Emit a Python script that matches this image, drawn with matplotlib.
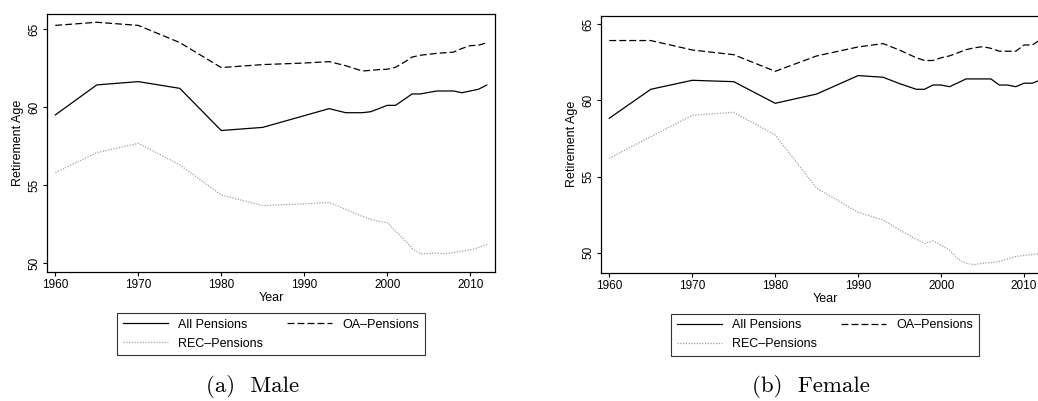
import matplotlib
matplotlib.use("Agg")
import matplotlib.pyplot as plt

years = [1960, 1965, 1970, 1975, 1980, 1985, 1990, 1993, 1995, 1997, 1998, 1999,
         2000, 2001, 2002, 2003, 2004, 2005, 2006, 2007, 2008, 2009, 2010, 2011, 2012]

male_all = [59.5, 61.42, 61.63, 61.2, 58.5, 58.7, 59.45, 59.9, 59.64, 59.64, 59.7, 59.9,
            60.11, 60.11, 60.47, 60.84, 60.84, 60.94, 61.03, 61.03, 61.03, 60.92, 61.03, 61.14, 61.41]
male_oa = [65.23, 65.43, 65.23, 64.13, 62.53, 62.72, 62.82, 62.91, 62.65, 62.31, 62.35, 62.4,
           62.42, 62.55, 62.85, 63.2, 63.32, 63.38, 63.44, 63.48, 63.52, 63.75, 63.93, 63.96, 64.12]
male_rec = [55.8, 57.08, 57.68, 56.3, 54.37, 53.69, 53.8, 53.9, 53.45, 53.0, 52.82, 52.68,
            52.6, 52.05, 51.55, 50.95, 50.6, 50.62, 50.65, 50.6, 50.68, 50.78, 50.85, 51.0, 51.22]

female_all = [58.83, 60.73, 61.32, 61.23, 59.81, 60.42, 61.63, 61.52, 61.1, 60.73, 60.73, 61.01,
              61.01, 60.9, 61.15, 61.41, 61.41, 61.41, 61.41, 61.01, 61.01, 60.9, 61.13, 61.13, 61.35]
female_oa = [63.93, 63.93, 63.31, 63.0, 61.91, 62.92, 63.51, 63.73, 63.3, 62.8, 62.62, 62.62,
             62.8, 62.92, 63.12, 63.33, 63.45, 63.53, 63.42, 63.23, 63.23, 63.23, 63.64, 63.64, 64.0]
female_rec = [56.2, 57.62, 59.02, 59.22, 57.73, 54.23, 52.65, 52.15, 51.49, 50.88, 50.62, 50.77,
              50.5, 50.18, 49.6, 49.3, 49.22, 49.3, 49.35, 49.42, 49.6, 49.75, 49.82, 49.88, 49.95]

plt.rcParams['font.family'] = ['Liberation Sans', 'DejaVu Sans']

fig = plt.figure(figsize=(10.38, 4.01), dpi=100)

panels = [
    ([0.0453, 0.3217, 0.4316, 0.6434], male_all, male_oa, male_rec, (49.44, 65.96), "(a)  Male", 0.243),
    ([0.579, 0.32, 0.4316, 0.641], female_all, female_oa, female_rec, (48.69, 65.565), "(b)  Female", 0.781),
]

for rect, s_all, s_oa, s_rec, ylim, caption, cx in panels:
    ax = fig.add_axes(rect)
    l1, = ax.plot(years, s_all, color='black', lw=0.9, ls='-', label='All Pensions')
    l2, = ax.plot(years, s_oa, color='black', lw=0.9, ls=(0, (5.5, 2.5)), label='OA\u2013Pensions')
    l3, = ax.plot(years, s_rec, color='#a0a0a0', lw=0.9, ls=(0, (1, 1.2)), label='REC\u2013Pensions')
    ax.set_xlim(1959, 2013)
    ax.set_ylim(*ylim)
    ax.set_xticks([1960, 1970, 1980, 1990, 2000, 2010])
    ax.set_yticks([50, 55, 60, 65])
    ax.tick_params(direction='out', length=3, width=0.8, labelsize=8.5, pad=2)
    for lab in ax.get_yticklabels():
        lab.set_rotation(90)
        lab.set_va('center')
    for sp in ax.spines.values():
        sp.set_linewidth(0.9)
    ax.set_xlabel("Year", fontsize=9, labelpad=1)
    ax.set_ylabel("Retirement Age", fontsize=9, labelpad=3)
    ax.legend(handles=[l1, l3, l2], ncol=2, loc='upper left',
              bbox_to_anchor=(0.156, -0.326, 0.688, 0.167), mode='expand',
              frameon=True, fancybox=False, edgecolor='black', fontsize=9,
              handlelength=3.6, handletextpad=0.85, labelspacing=0.55,
              borderpad=0.45, borderaxespad=0, columnspacing=1.5)
    ax.get_legend().get_frame().set_linewidth(0.8)
    fig.text(cx, 0.035, caption, ha='center', va='center', family='cmr10', fontsize=16.5)

fig.savefig("out.png", dpi=100)
